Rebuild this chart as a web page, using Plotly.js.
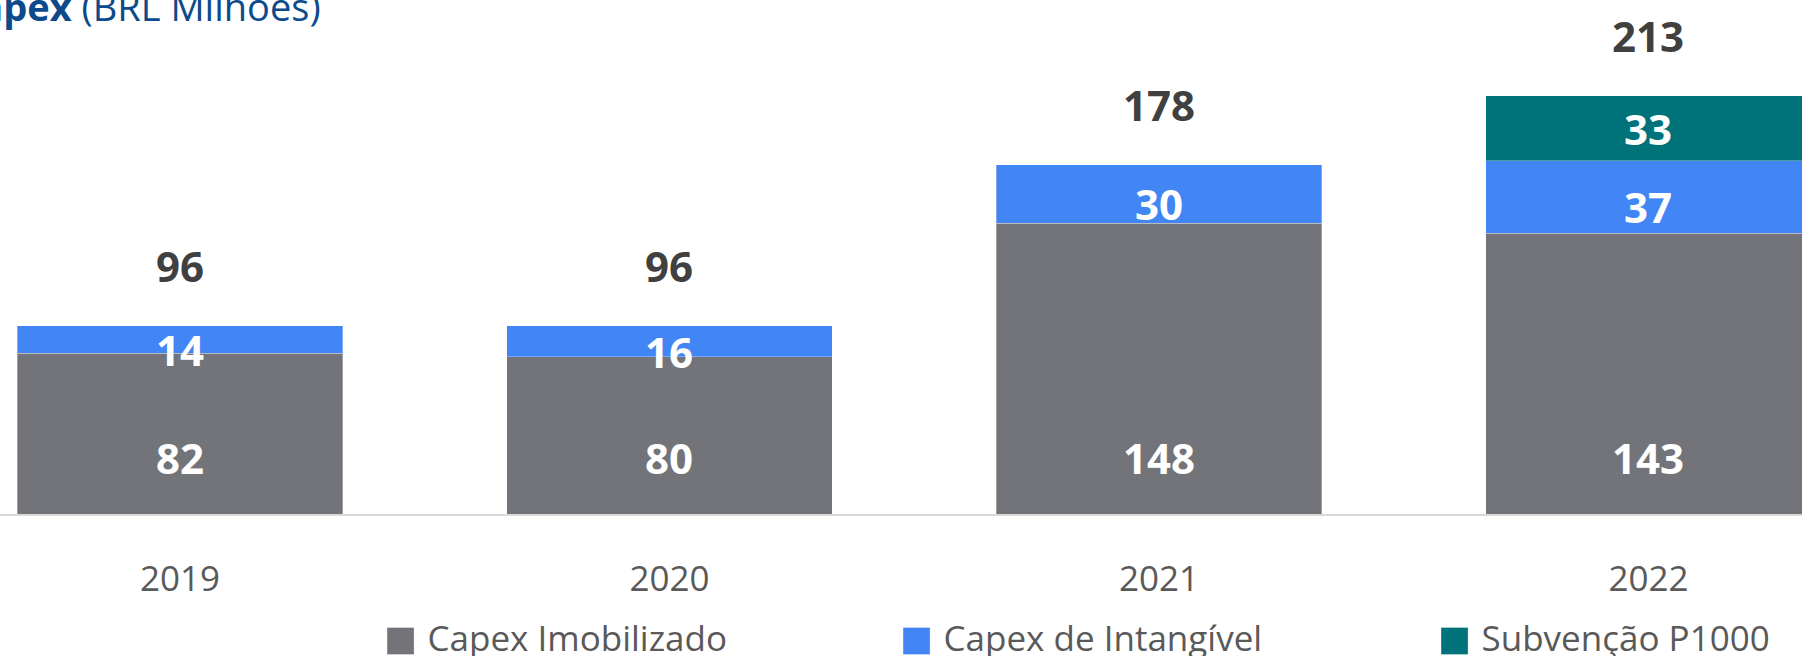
<!DOCTYPE html>
<html><head><meta charset="utf-8">
<script src="https://cdn.plot.ly/plotly-3.0.1.min.js"></script>
<style>html,body{margin:0;padding:0;background:#fff;overflow:hidden;} #chart{width:1802px;height:656px;}</style>
</head><body><div id="chart"></div>
<script>
const years = ['2019', '2020', '2021', '2022'];
const capexImobilizado = [82, 80, 148, 143];
const capexIntangivel = [14, 16, 30, 37];
const subvencaoP1000 = [null, null, null, 33];
const seriesNames = ['Capex Imobilizado', 'Capex de Intangível', 'Subvenção P1000'];
const titleBold = 'Capex';
const titleRest = '(BRL Milhões)';

const FONT = '"Open Sans", sans-serif';
const colors = ['#737479', '#4285F4', '#00727A'];
const series = [capexImobilizado, capexIntangivel, subvencaoP1000];
const legendWidths = [457, 479, 300];

const traces = series.map((vals, i) => ({
  type: 'bar', name: seriesNames[i], x: years, y: vals,
  marker: {color: colors[i], line: {color: 'rgba(255,255,255,0.3)', width: 1}},
  legendwidth: legendWidths[i],
  hoverinfo: 'x+y+name'
}));

const totals = years.map((_, j) => series.reduce((s, a) => s + (a[j] || 0), 0));

const annotations = [];
years.forEach((yr, j) => {
  let base = 0;
  series.forEach((vals, i) => {
    const v = vals[j];
    if (v == null) return;
    let y, shift;
    if (i === 0) { y = 0; shift = 57; }
    else if (i === 1) { y = base + v / 2; shift = -10; }
    else { y = base + v / 2; shift = 0; }
    annotations.push({x: j, y: y, yshift: shift, xref: 'x', yref: 'y', text: '<b>' + v + '</b>',
      showarrow: false, xanchor: 'center', yanchor: 'middle',
      font: {family: FONT, size: 42, color: '#ffffff'}});
    base += v;
  });
  annotations.push({x: j, y: totals[j], yshift: 60, xref: 'x', yref: 'y', text: '<b>' + totals[j] + '</b>',
    showarrow: false, xanchor: 'center', yanchor: 'middle',
    font: {family: FONT, size: 42, color: '#404040'}});
});
annotations.push({xref: 'paper', yref: 'paper', x: -0.0255, y: 0.989, xanchor: 'left', yanchor: 'middle',
  showarrow: false, text: '<b>' + titleBold + '</b> ' + titleRest,
  font: {family: FONT, size: 38, color: '#0D4A8B'}});

const layout = {
  width: 1802, height: 656,
  margin: {l: 0, r: 0, t: 0, b: 142.3, pad: 0, autoexpand: false},
  paper_bgcolor: '#ffffff', plot_bgcolor: '#ffffff',
  barmode: 'stack', bargap: 0.335,
  showlegend: true,
  legend: {orientation: 'h', x: 0.2073, xanchor: 'left', y: -0.1824, yanchor: 'top',
    traceorder: 'normal', itemwidth: 44, bgcolor: 'rgba(0,0,0,0)',
    font: {family: FONT, size: 35, color: '#595959'}},
  xaxis: {type: 'category', range: [-0.3677, 3.3136], showgrid: false, zeroline: false,
    showline: true, linecolor: '#D9D9D9', linewidth: 2, ticks: '',
    ticklabelstandoff: 33,
    tickfont: {family: FONT, size: 35, color: '#595959'}, fixedrange: true},
  yaxis: {range: [0, 261.8], visible: false, showgrid: false, zeroline: false, fixedrange: true},
  annotations: annotations
};

Plotly.newPlot('chart', traces, layout, {displayModeBar: false, staticPlot: true}).then(gd => {
  gd.querySelectorAll('.legend .legendpoints path').forEach(p => {
    p.setAttribute('d', 'M13.5,17.5H-13.5V-9.5H13.5Z');
  });
});
</script>
</body></html>
